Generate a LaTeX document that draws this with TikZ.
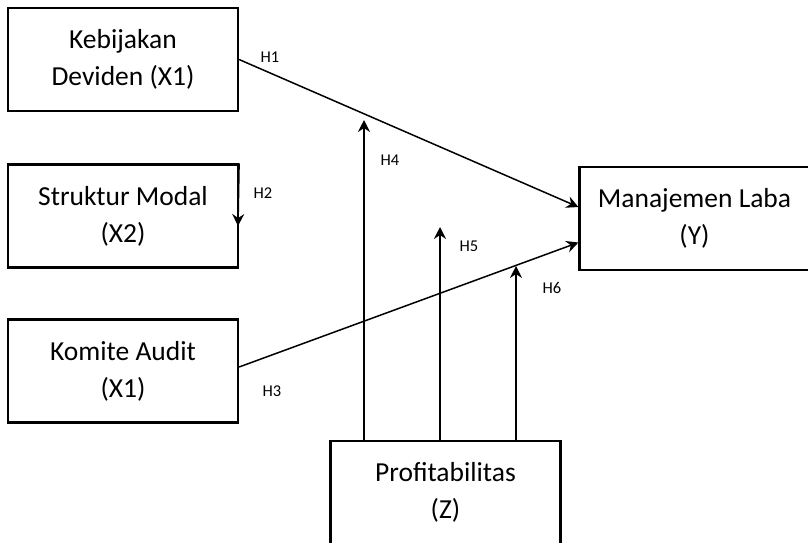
\documentclass[tikz,border=0pt]{standalone}
\usepackage{fontspec}
\setmainfont{Carlito}
\usepackage{xcolor}
\definecolor{dark}{RGB}{0,0,0}
\usepackage{tikz}
\usetikzlibrary{arrows.meta, positioning, calc}

\tikzset{
    varbox/.style={draw=dark, line width=2.2pt, fill=white, align=center,
        minimum width=230pt, minimum height=103pt, inner sep=0pt,
        font=\fontsize{27.5}{37}\selectfont},
    hyplabel/.style={font=\fontsize{16.5}{19}\selectfont, inner sep=0pt},
    hyparrow/.style={draw=dark, line width=1.5pt,
        -{Stealth[length=12pt, width=12pt, inset=4pt]}}
}

\begin{document}
\begin{tikzpicture}[x=1pt, y=-1pt]
        % Cadre de la figure
        \useasboundingbox (0,0) rectangle (808,542);
        \clip (0,0) rectangle (808,542);

        % Variables independantes
        \node[varbox] (x1) at (123, 59.5) {Kebijakan\\Deviden (X1)};
        \node[varbox] (x2) at (123, 216) {Struktur Modal\\(X2)};
        \node[varbox] (x3) at (123, 371) {Komite Audit\\(X1)};

        % Variable dependante et moderation
        \node[varbox] (y) at (694.5, 218.5) {Manajemen Laba\\(Y)};
        \node[varbox] (z) at (445.5, 492.5) {Profitabilitas\\(Z)};

        % Extremites libres des fleches
        \coordinate (h2end) at (238, 226);
        \coordinate (h4end) at (364, 120);
        \coordinate (h5end) at (440, 227);
        \coordinate (h6end) at (516, 266);

        % Hypotheses directes
        \draw[hyparrow] (x1.east) -- ([yshift=11.5pt]y.west);
        \draw[hyparrow] (x2.north east) -- (h2end);
        \draw[hyparrow] ([yshift=4pt]x3.east) -- ([yshift=-24pt]y.west);

        % Effets de moderation
        \draw[hyparrow] (h4end |- z.north) -- (h4end);
        \draw[hyparrow] (h5end |- z.north) -- (h5end);
        \draw[hyparrow] (h6end |- z.north) -- (h6end);

        % Labels
        \node[hyplabel] (h1) at (270, 57) {H1};
        \node[hyplabel] (h2) at (263, 193) {H2};
        \node[hyplabel] (h3) at (272, 391) {H3};
        \node[hyplabel] (h4) at (390, 160) {H4};
        \node[hyplabel] (h5) at (469, 246) {H5};
        \node[hyplabel] (h6) at (552, 288) {H6};
    \end{tikzpicture}
\end{document}
